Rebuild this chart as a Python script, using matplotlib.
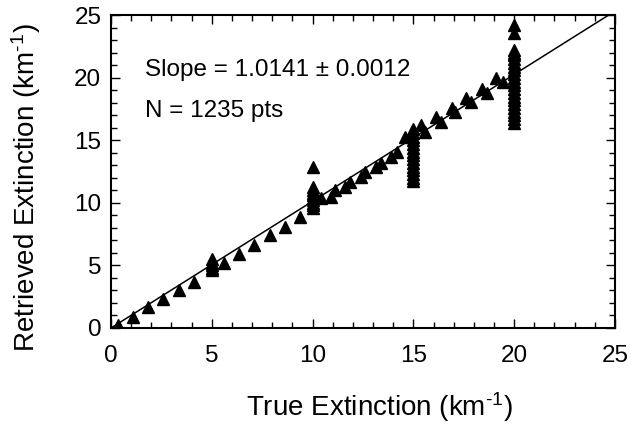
import matplotlib
matplotlib.use("Agg")
import matplotlib.pyplot as plt
from matplotlib.ticker import MultipleLocator
import numpy as np

plt.rcParams['font.family'] = ['Liberation Sans', 'DejaVu Sans']
plt.rcParams['mathtext.fontset'] = 'custom'
plt.rcParams['mathtext.rm'] = 'Liberation Sans'
plt.rcParams['mathtext.it'] = 'Liberation Sans'

# Points along the 1:1 line (true, retrieved)
line_true = [0.35, 1.1, 1.85, 2.6, 3.38, 4.13, 5.62, 6.37, 7.11, 7.89, 8.63, 9.38,
             10.4, 10.9, 11.1, 11.6, 11.85, 12.4, 12.6, 13.15, 13.4, 13.9, 14.17, 14.58,
             15.4, 15.6, 16.1, 16.35, 16.9, 17.06, 17.6, 17.84, 18.39, 18.64, 19.1, 19.43]
line_retr = [0.25, 0.9, 1.65, 2.3, 3.0, 3.7, 5.2, 5.9, 6.65, 7.4, 8.1, 8.85,
             10.4, 10.5, 11.0, 11.3, 11.7, 12.1, 12.5, 12.9, 13.2, 13.7, 14.1, 15.3,
             16.2, 15.7, 16.9, 16.5, 17.6, 17.25, 18.4, 18.05, 19.1, 18.8, 20.0, 19.7]

# Clusters at fixed true extinction values
c5 = [4.6, 4.8, 5.0, 5.2, 5.5]
c10 = [9.6, 9.8, 10.0, 10.2, 10.4, 10.6, 10.8, 11.0, 11.3, 12.9]
c15 = [11.75, 12.0, 12.3, 12.6, 12.9, 13.2, 13.5, 13.8, 14.1, 14.4, 14.7, 15.0,
       15.3, 15.6, 15.9]
c20 = [16.4, 16.7, 17.0, 17.3, 17.6, 17.9, 18.2, 18.5, 18.8, 19.1, 19.4, 19.7,
       20.0, 20.3, 20.6, 20.9, 21.2, 21.5, 21.8, 22.0, 22.2, 23.6, 24.2]
clusters = {5: c5, 10: c10, 15: c15, 20: c20}

slope = 1.0141
ticks = [0, 5, 10, 15, 20, 25]

fig = plt.figure(figsize=(6.31, 4.23), dpi=100)
ax = fig.add_axes([0.1759, 0.2246, 0.7987, 0.7388])

xs = np.array([0, 25])
ax.plot(xs, slope * xs, color='black', lw=1.1, zorder=2)

mk = dict(marker='^', ms=9, color='black', ls='none', zorder=3)
ax.plot(line_true, line_retr, **mk)
for xv, ys in clusters.items():
    ax.plot([xv] * len(ys), ys, **mk)

ax.set_xlim(0, 25)
ax.set_ylim(0, 25)
ax.set_xticks(ticks)
ax.set_yticks(ticks)
ax.xaxis.set_minor_locator(MultipleLocator(1))
ax.yaxis.set_minor_locator(MultipleLocator(1))
ax.tick_params(which='both', direction='in', top=True, right=True, width=1.0)
ax.tick_params(which='major', length=6.5, labelsize=17.5)
ax.tick_params(axis='x', which='major', pad=12)
ax.tick_params(axis='y', which='major', pad=7)
ax.tick_params(which='minor', length=4)
for s in ax.spines.values():
    s.set_linewidth(1.5)

ax.set_xlabel(r'True Extinction (km$^{\text{-1}}$)', fontsize=20)
ax.set_ylabel(r'Retrieved Extinction (km$^{\text{-1}}$)', fontsize=20)
ax.xaxis.set_label_coords(0.532, -0.2)
ax.yaxis.set_label_coords(-0.135, 0.45)

ax.text(1.69, 20.16, 'Slope = 1.0141 \u00b1 0.0012', fontsize=17.5, va='baseline', ha='left')
ax.text(1.69, 16.88, 'N = 1235 pts', fontsize=17.5, va='baseline', ha='left')

fig.savefig('out.png', dpi=100)
